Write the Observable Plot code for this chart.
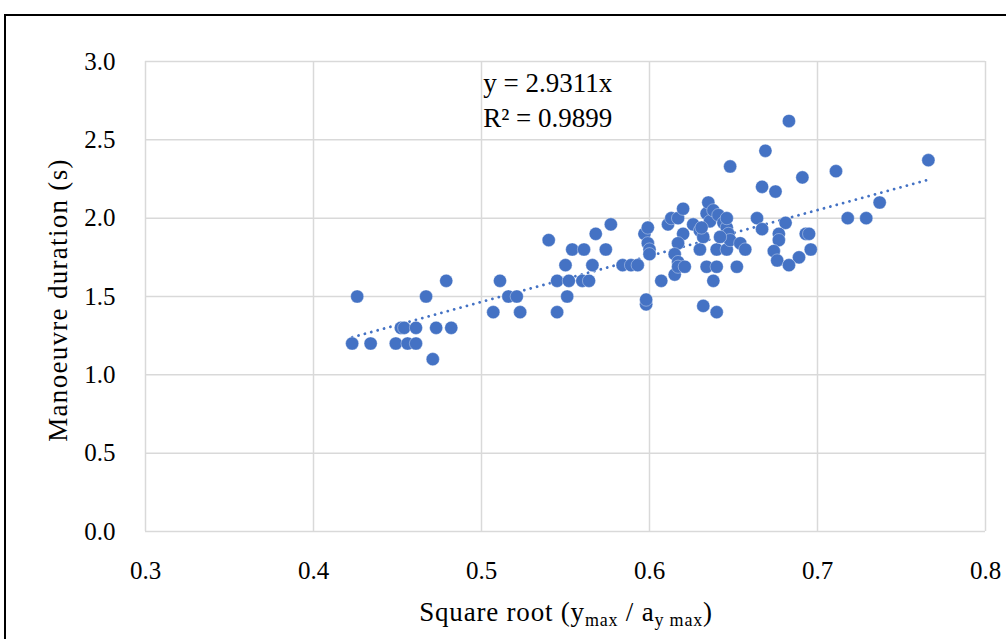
<!DOCTYPE html>
<html>
<head>
<meta charset="utf-8">
<script src="https://cdn.jsdelivr.net/npm/d3@7"></script>
<script src="https://cdn.jsdelivr.net/npm/@observablehq/plot@0.6"></script>
<style>
  html, body { margin: 0; padding: 0; background: #fff; width: 1006px; height: 639px; overflow: hidden; }
  #wrap { position: relative; width: 1006px; height: 639px; font-family: "Liberation Serif", serif; }
  #frame { position: absolute; left: 4px; top: 14px; width: 1100px; height: 700px; border: 2px solid #000; box-sizing: border-box; }
  #chart { position: absolute; left: 0; top: 0; }
  .lab { position: absolute; color: #000; font-size: 27px; white-space: nowrap; }
  .lab sub { font-size: 18px; vertical-align: -5px; }
</style>
</head>
<body>
<div id="wrap">
  <div id="frame"></div>
  <div id="chart"></div>
  <div class="lab" id="ylab" style="left:58px; top:300px; transform: translate(-50%,-50%) rotate(-90deg); letter-spacing: 1.3px;">Manoeuvre duration (s)</div>
  <div class="lab" id="xlab" style="left:566px; top:614px; transform: translate(-50%,-50%); letter-spacing: 0.8px;">Square root (y<sub>max</sub> / a<sub>y max</sub>)</div>
</div>
<script>
// x values: Square root (ymax / ay max)
const xVals = [
  0.423,0.426,0.434,0.449,0.452,0.454,0.456,0.461,0.461,0.467,0.471,0.473,0.479,0.482,0.507,0.511,0.516,0.521,0.523,
  0.540,0.545,0.545,0.550,0.551,0.552,0.554,0.560,0.561,0.564,0.566,0.568,0.574,0.577,0.584,0.589,0.593,0.598,0.598,0.597,0.599,0.599,0.600,0.600,
  0.607,0.611,0.613,0.617,0.620,0.620,0.617,0.615,0.617,0.615,0.617,0.621,0.626,0.630,0.630,0.632,0.632,0.634,0.635,0.636,0.638,0.641,0.640,0.634,0.640,0.638,0.640,0.646,0.644,0.646,0.647,0.648,0.642,0.631,0.646,0.648,0.652,0.654,0.657,
  0.664,0.667,0.667,0.669,0.675,0.683,0.691,0.711,0.766,0.737,0.718,0.729,0.681,0.677,0.677,0.693,0.695,0.674,0.696,0.676,0.689,0.683
];
// y values: Manoeuvre duration (s)
const yVals = [
  1.20,1.50,1.20,1.20,1.30,1.30,1.20,1.20,1.30,1.50,1.10,1.30,1.60,1.30,1.40,1.60,1.50,1.50,1.40,
  1.86,1.40,1.60,1.70,1.50,1.60,1.80,1.60,1.80,1.60,1.70,1.90,1.80,1.96,1.70,1.70,1.70,1.45,1.48,1.90,1.94,1.84,1.80,1.77,
  1.60,1.96,2.00,2.00,2.06,1.90,1.84,1.77,1.72,1.64,1.69,1.69,1.96,1.80,1.92,1.88,1.44,2.03,2.10,1.98,2.05,2.02,1.40,1.69,1.69,1.60,1.80,1.80,1.97,1.94,1.90,1.86,1.88,1.94,2.00,2.33,1.69,1.84,1.80,
  2.00,2.20,1.93,2.43,2.17,2.62,2.26,2.30,2.37,2.10,2.00,2.00,1.97,1.90,1.86,1.90,1.90,1.79,1.80,1.73,1.75,1.70
];
const slope = 2.9311;
const equationLines = ["y = 2.9311x", "R² = 0.9899"];
const equationY = [2.86, 2.635];
const xTicks = [0.3, 0.4, 0.5, 0.6, 0.7, 0.8];
const yTicks = [0.0, 0.5, 1.0, 1.5, 2.0, 2.5, 3.0];

const points = xVals.map((x, i) => ({x, y: yVals[i]}));
const xMin = d3.min(xVals), xMax = d3.max(xVals);
const trend = [xMin, xMax].map(x => ({x, y: slope * x}));
const eq = equationLines.map((t, i) => ({t, x: 0.501, y: equationY[i]}));

const blue = "#4472C4";
const grid = "#d9d9d9";

const chart = Plot.plot({
  width: 1006,
  height: 639,
  marginLeft: 145,
  marginRight: 21,
  marginTop: 61,
  marginBottom: 108,
  style: { fontFamily: "Liberation Serif, serif", fontSize: "25px", color: "#000", background: "transparent" },
  x: { domain: [0.3, 0.8], ticks: xTicks, tickFormat: d3.format(".1f"), label: null },
  y: { domain: [0, 3], ticks: yTicks, tickFormat: d3.format(".1f"), label: null },
  marks: [
    Plot.gridX(xTicks, { stroke: grid, strokeOpacity: 1, strokeWidth: 1.5 }),
    Plot.gridY(yTicks, { stroke: grid, strokeOpacity: 1, strokeWidth: 1.5 }),
    Plot.axisX(xTicks, { tickSize: 0, tickPadding: 30, tickFormat: d3.format(".1f"), fontSize: 25 }),
    Plot.axisY(yTicks, { tickSize: 0, tickPadding: 30, tickFormat: d3.format(".1f"), fontSize: 25 }),
    Plot.line(trend, { x: "x", y: "y", stroke: blue, strokeWidth: 2.8, strokeDasharray: "0.01 6.6", strokeLinecap: "round" }),
    Plot.dot(points, { x: "x", y: "y", r: 6.6, fill: blue, stroke: "#fff", strokeWidth: 0.6, strokeOpacity: 0.6 }),
    Plot.text(eq, { x: "x", y: "y", text: "t", textAnchor: "start", fontSize: 27, fill: "#000" })
  ]
});
document.getElementById("chart").appendChild(chart);
</script>
</body>
</html>
